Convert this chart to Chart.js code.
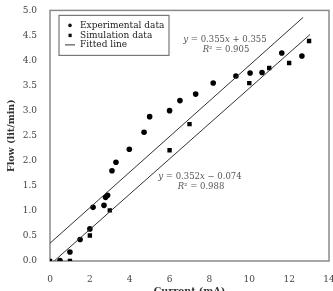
<!DOCTYPE html>
<html>
<head>
<meta charset="utf-8">
<script src="https://cdn.jsdelivr.net/npm/chart.js@4.4.1/dist/chart.umd.min.js"></script>
<style>
  html, body { margin: 0; padding: 0; background: #fff; overflow: hidden; }
  #wrap { width: 333px; height: 300px; }
</style>
</head>
<body>
<div id="wrap"><canvas id="chart"></canvas></div>
<script>
/* Flow vs current: experimental, simulation and fitted lines */

const expX = [0.50, 1.00, 1.51, 2.00, 2.16, 2.71, 2.79, 2.89, 3.11, 3.31, 3.98, 4.72, 5.00, 6.00, 6.52, 7.31, 8.19, 9.33, 10.04, 10.64, 11.63, 12.64];
const expY = [0.01, 0.18, 0.43, 0.64, 1.07, 1.11, 1.27, 1.31, 1.80, 1.97, 2.23, 2.57, 2.88, 3.00, 3.20, 3.33, 3.55, 3.69, 3.75, 3.76, 4.15, 4.09];

const simX = [0, 1, 2, 3, 6, 7, 10, 11, 12, 13];
const simY = [0.00, 0.00, 0.51, 1.01, 2.21, 2.73, 3.55, 3.85, 3.95, 4.39];

// fitted line end points as drawn
const fitUpperX = [0, 12.7];
const fitUpperY = [0.355, 4.86];
const fitLowerX = [0.21, 13.05];
const fitLowerY = [0, 4.52];

const xTicks = [0, 2, 4, 6, 8, 10, 12, 14];
const yTicks = [0, 0.5, 1, 1.5, 2, 2.5, 3, 3.5, 4, 4.5, 5];

const legendLabels = ['Experimental data', 'Simulation data', 'Fitted line'];
// [text, italic] pieces for each note line
const upperNote = [
  [['y', 1], [' = 0.355', 0], ['x', 1], [' + 0.355', 0]],
  [['R', 1], ['² = 0.905', 0]]
];
const lowerNote = [
  [['y', 1], [' = 0.352', 0], ['x', 1], [' − 0.074', 0]],
  [['R', 1], ['² = 0.988', 0]]
];

const SERIF = "'DejaVu Serif', 'Liberation Serif', serif";
const AXIS_GRAY = '#8a8a8a';

const toPts = (xs, ys) => xs.map((x, i) => ({ x, y: ys[i] }));

function drawNote(ctx, pieces, cx, y) {
  const fontOf = (it) => (it ? 'italic ' : '') + '8.5px ' + SERIF;
  let total = 0;
  pieces.forEach(([t, it]) => { ctx.font = fontOf(it); total += ctx.measureText(t).width; });
  let x = cx - total / 2;
  pieces.forEach(([t, it]) => {
    ctx.font = fontOf(it);
    ctx.fillText(t, x, y);
    x += ctx.measureText(t).width;
  });
}

/* --- frame, legend box and fit notes --- */
const decorPlugin = {
  id: 'decor',
  beforeDatasetsDraw(chart) {
    const { ctx, chartArea: a } = chart;
    ctx.save();
    ctx.strokeStyle = AXIS_GRAY;
    ctx.lineWidth = 1.5;
    ctx.strokeRect(a.left, a.top, a.right - a.left, a.bottom - a.top);
    ctx.restore();
  },
  afterDatasetsDraw(chart) {
    const { ctx, chartArea: a } = chart;
    ctx.save();

    // legend box
    const bx = a.left + 9, by = a.top + 5, bw = 110, bh = 40;
    ctx.fillStyle = '#fff';
    ctx.fillRect(bx, by, bw, bh);
    ctx.strokeStyle = '#777';
    ctx.lineWidth = 1.2;
    ctx.strokeRect(bx, by, bw, bh);

    ctx.font = '9px ' + SERIF;
    ctx.textBaseline = 'middle';
    ctx.textAlign = 'left';
    const rowY = [by + 10, by + 20, by + 29.5];
    legendLabels.forEach((txt, i) => {
      const y = rowY[i];
      ctx.fillStyle = '#111';
      if (i === 0) {
        ctx.beginPath(); ctx.arc(bx + 11, y, 1.8, 0, Math.PI * 2); ctx.fill();
      } else if (i === 1) {
        ctx.fillRect(bx + 9.5, y - 1.7, 3.2, 3.4);
      } else {
        ctx.strokeStyle = '#333'; ctx.lineWidth = 1;
        ctx.beginPath(); ctx.moveTo(bx + 6, y); ctx.lineTo(bx + 16, y); ctx.stroke();
      }
      ctx.fillStyle = '#222';
      ctx.fillText(txt, bx + 21, y);
    });

    // fit equations
    ctx.fillStyle = '#555';
    drawNote(ctx, upperNote[0], 225, 40);
    drawNote(ctx, upperNote[1], 226, 50);
    drawNote(ctx, lowerNote[0], 200, 176.5);
    drawNote(ctx, lowerNote[1], 201, 187);
    ctx.restore();
  }
};

new Chart(document.getElementById('chart'), {
  type: 'scatter',
  data: {
    datasets: [
      {
        label: 'Fitted upper',
        type: 'line',
        data: toPts(fitUpperX, fitUpperY),
        borderColor: '#333',
        borderWidth: 1,
        pointRadius: 0,
        tension: 0
      },
      {
        label: 'Fitted lower',
        type: 'line',
        data: toPts(fitLowerX, fitLowerY),
        borderColor: '#333',
        borderWidth: 1,
        pointRadius: 0,
        tension: 0
      },
      {
        label: legendLabels[0],
        data: toPts(expX, expY),
        pointStyle: 'circle',
        pointRadius: 2.8,
        backgroundColor: '#000',
        borderColor: '#000',
        borderWidth: 0
      },
      {
        label: legendLabels[1],
        data: toPts(simX, simY),
        pointStyle: 'rect',
        pointRadius: 3.1,
        backgroundColor: '#000',
        borderColor: '#000',
        borderWidth: 0
      }
    ]
  },
  options: {
    responsive: true,
    maintainAspectRatio: false,
    animation: false,
    events: [],
    layout: { padding: { left: 0, right: 0, top: 8, bottom: 0 } },
    plugins: {
      legend: { display: false },
      tooltip: { enabled: false }
    },
    scales: {
      x: {
        type: 'linear',
        min: 0,
        max: 14,
        afterFit: (s) => { s.height = 39; s.paddingRight = 4; },
        afterBuildTicks: (s) => { s.ticks = xTicks.map(v => ({ value: v })); },
        grid: { display: false },
        border: { display: false },
        ticks: {
          color: '#444',
          padding: 5,
          maxRotation: 0,
          font: { family: SERIF, size: 9 }
        },
        title: {
          display: true,
          text: 'Current (mA)',
          color: '#333',
          padding: { top: 0, bottom: 3 },
          font: { family: SERIF, size: 9.5, weight: 'bold' }
        }
      },
      y: {
        type: 'linear',
        min: 0,
        max: 5,
        afterFit: (s) => { s.width = 50; },
        afterBuildTicks: (s) => { s.ticks = yTicks.map(v => ({ value: v })); },
        grid: { display: false },
        border: { display: false },
        ticks: {
          color: '#444',
          padding: 5,
          font: { family: SERIF, size: 9 },
          callback: (v) => Number(v).toFixed(1)
        },
        title: {
          display: true,
          text: 'Flow (lit/min)',
          color: '#333',
          padding: { top: 6, bottom: 0 },
          font: { family: SERIF, size: 9.5, weight: 'bold' }
        }
      }
    }
  },
  plugins: [decorPlugin]
});
</script>
</body>
</html>
